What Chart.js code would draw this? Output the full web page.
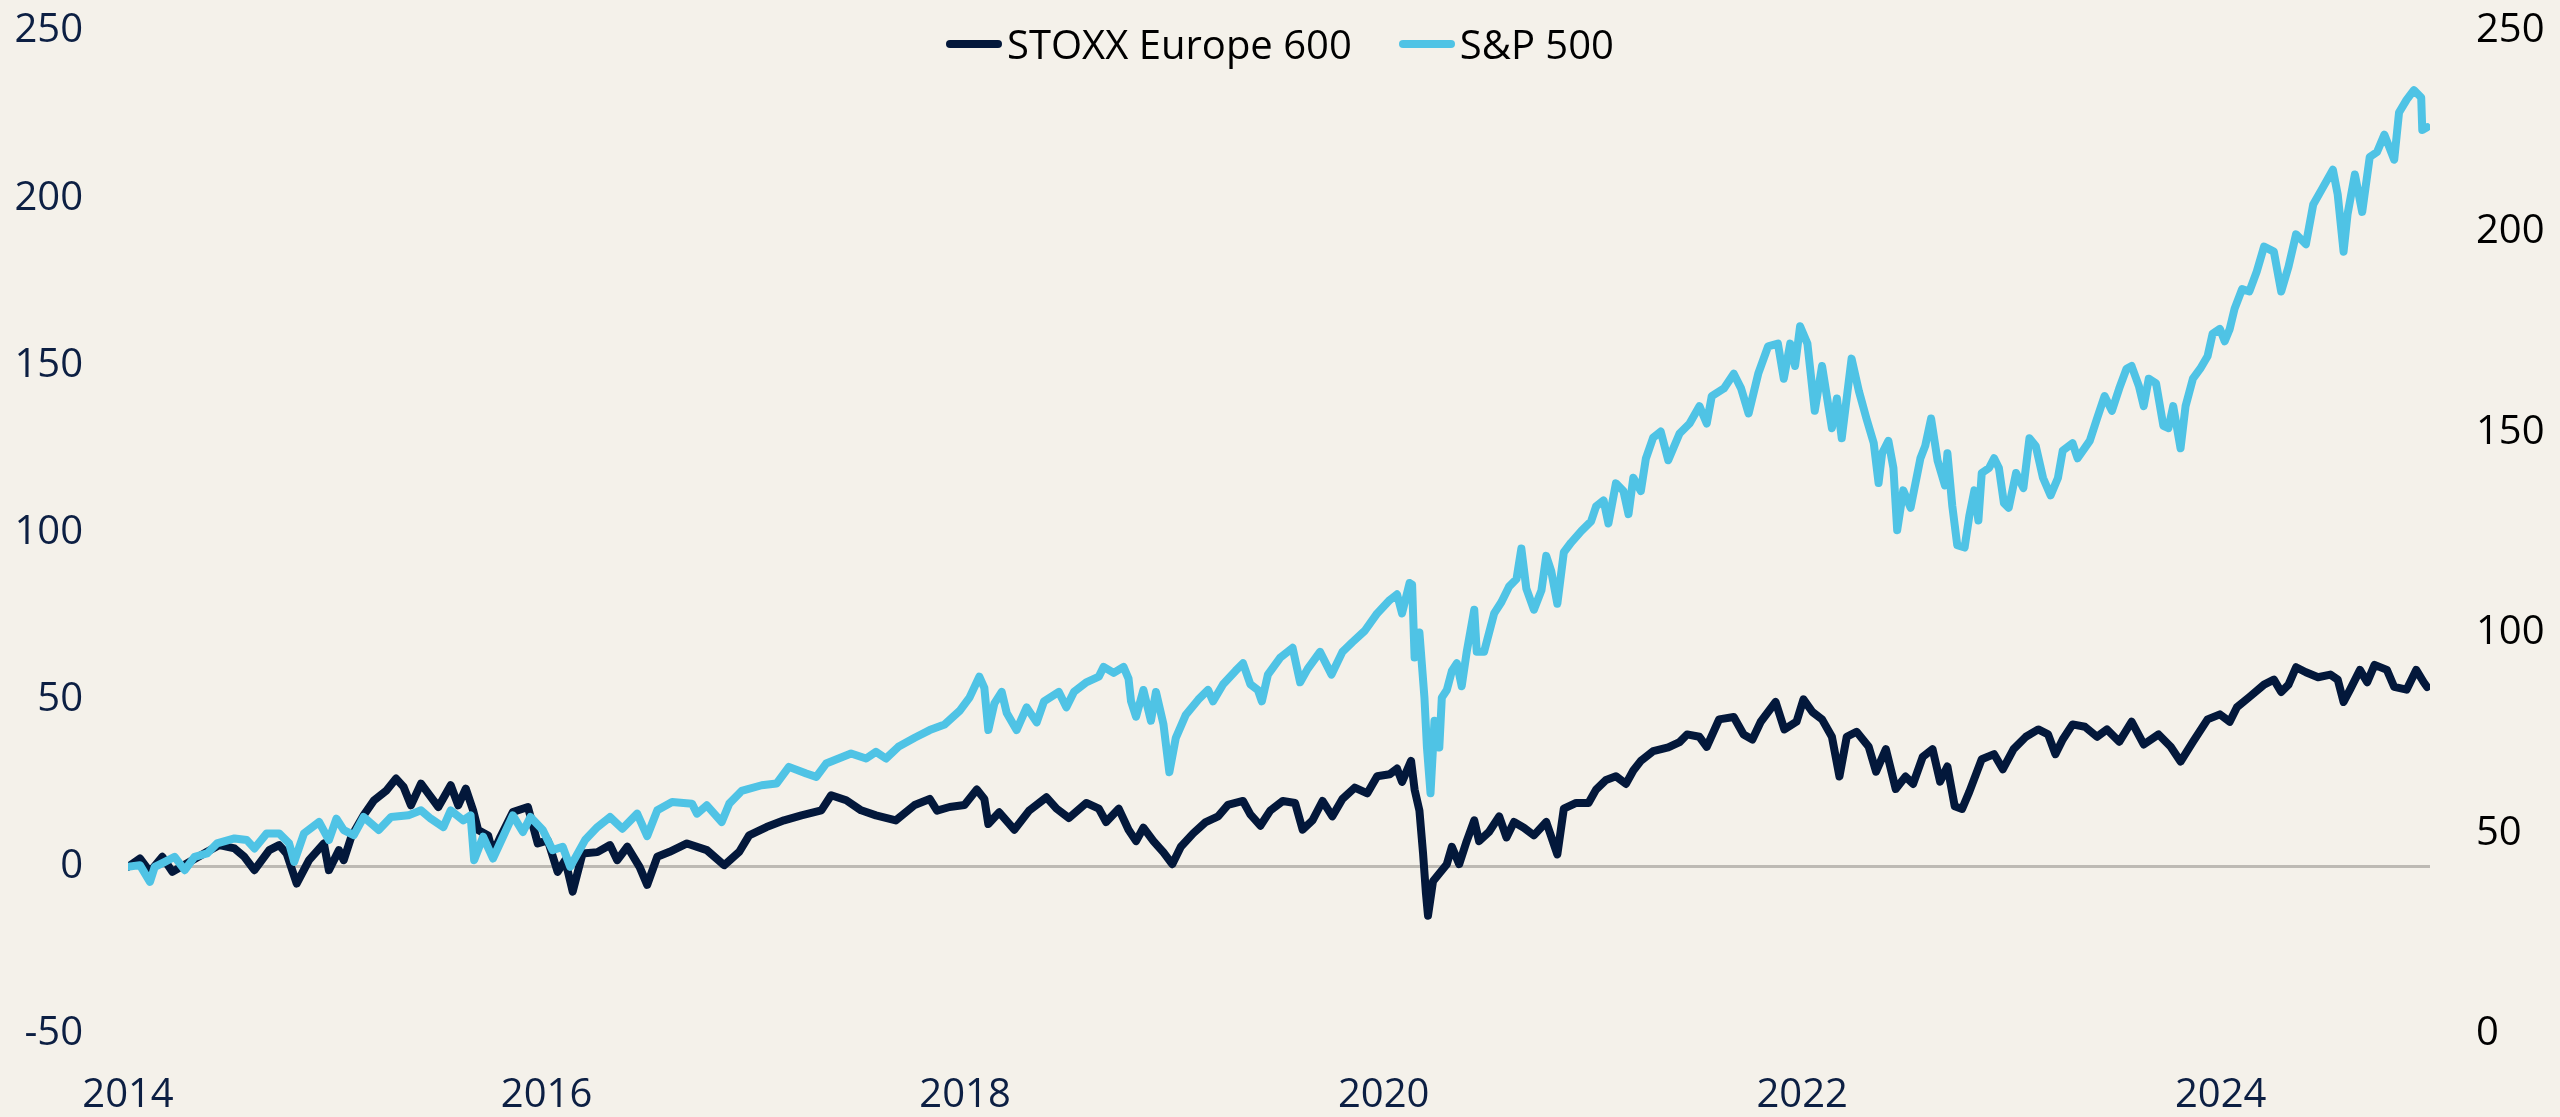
<!DOCTYPE html>
<html>
<head>
<meta charset="utf-8">
<title>STOXX Europe 600 vs S&amp;P 500</title>
<script src="https://cdn.jsdelivr.net/npm/chart.js@4.4.1/dist/chart.umd.min.js"></script>
<style>
  html, body { margin: 0; padding: 0; background: #f4f1ea; }
  #wrap { position: relative; width: 2560px; height: 1117px; }
  #legend {
    position: absolute; top: 16px; left: 0; width: 2560px;
    display: flex; justify-content: center; gap: 47px;
    font-family: 'Open Sans', sans-serif; font-size: 40px; line-height: 56px; color: #000;
  }
  .item { display: flex; align-items: center; }
  .swatch { width: 56px; height: 8px; border-radius: 4px; margin-right: 5px; }
</style>
</head>
<body>
<div id="wrap">
  <canvas id="chart" width="2560" height="1117"></canvas>
  <div id="legend"></div>
</div>
<script>
'use strict';

// Tick labels
const xTicks = [2014, 2016, 2018, 2020, 2022, 2024];
const leftTicks = [-50, 0, 50, 100, 150, 200, 250];
const rightTicks = [0, 50, 100, 150, 200, 250];

// STOXX Europe 600, % change since start (decimal years)
const stoxxYears = [
  2014.000, 2014.057, 2014.105, 2014.164, 2014.212, 2014.295, 2014.378, 2014.437, 2014.509, 2014.556,
  2014.604, 2014.675, 2014.722, 2014.758, 2014.806, 2014.865, 2014.936, 2014.960, 2015.008, 2015.031,
  2015.067, 2015.126, 2015.174, 2015.233, 2015.281, 2015.317, 2015.352, 2015.400, 2015.447, 2015.483,
  2015.542, 2015.578, 2015.614, 2015.649, 2015.673, 2015.721, 2015.744, 2015.780, 2015.839, 2015.911,
  2015.958, 2016.006, 2016.053, 2016.089, 2016.125, 2016.172, 2016.243, 2016.303, 2016.338, 2016.386,
  2016.445, 2016.481, 2016.529, 2016.588, 2016.671, 2016.766, 2016.849, 2016.921, 2016.968, 2017.051,
  2017.135, 2017.218, 2017.313, 2017.360, 2017.432, 2017.503, 2017.574, 2017.669,
  2017.759, 2017.831, 2017.866, 2017.926, 2017.997, 2018.056, 2018.092, 2018.111, 2018.163, 2018.235,
  2018.306, 2018.389, 2018.437, 2018.496, 2018.579, 2018.639, 2018.674, 2018.734, 2018.781, 2018.817,
  2018.852, 2018.900, 2018.948, 2018.990, 2019.031, 2019.090, 2019.150, 2019.209, 2019.256, 2019.328,
  2019.363, 2019.411, 2019.458, 2019.518, 2019.577, 2019.613, 2019.660, 2019.708, 2019.755, 2019.803,
  2019.862, 2019.922, 2019.969, 2020.029, 2020.064, 2020.088, 2020.131, 2020.148, 2020.171, 2020.188,
  2020.202, 2020.212, 2020.236, 2020.266, 2020.302, 2020.326, 2020.361, 2020.397, 2020.433, 2020.456,
  2020.504, 2020.552, 2020.587, 2020.623, 2020.670, 2020.718, 2020.777, 2020.830, 2020.861, 2020.920,
  2020.979, 2021.015, 2021.063, 2021.110, 2021.158, 2021.193, 2021.229, 2021.288, 2021.360, 2021.414,
  2021.450, 2021.509, 2021.544, 2021.603, 2021.673, 2021.720, 2021.762, 2021.802, 2021.873, 2021.915,
  2021.973, 2022.006, 2022.049, 2022.095, 2022.142, 2022.178, 2022.213, 2022.260, 2022.318, 2022.353,
  2022.400, 2022.447, 2022.494, 2022.530, 2022.576, 2022.623, 2022.659, 2022.694, 2022.729, 2022.764,
  2022.799, 2022.858, 2022.917, 2022.959, 2023.010, 2023.069, 2023.128, 2023.175, 2023.210, 2023.245,
  2023.292, 2023.351, 2023.409, 2023.456, 2023.515, 2023.574, 2023.632, 2023.703, 2023.761, 2023.808,
  2023.867, 2023.937, 2023.996, 2024.043, 2024.078, 2024.137, 2024.207, 2024.254, 2024.289, 2024.324,
  2024.360, 2024.407, 2024.465, 2024.524, 2024.559, 2024.587, 2024.618, 2024.665, 2024.700, 2024.735,
  2024.794, 2024.829, 2024.888, 2024.934, 2024.970, 2024.986
];
const stoxxValues = [
  0, 2.5, -1.5, 3, -1.5, 1.5, 4.5, 6.5, 5.5, 3,
  -1, 5, 6.5, 4, -5, 2, 7, -1, 5, 2,
  9, 15.4, 19.8, 22.7, 26.4, 23.9, 18.4, 24.9, 20.9, 17.9,
  24.4, 18.4, 23.4, 16.9, 11, 9.4, 4, 9, 16.4, 17.9,
  7, 7.9, -1.5, 2, -7.4, 4, 4.4, 6.5, 2, 6,
  -0.1, -5.4, 3, 4.5, 7, 5, 0.5, 4.5, 9.4, 11.9,
  13.9, 15.4, 16.9, 21.4, 19.9, 16.9, 15.4, 13.9,
  18.5, 20.3, 16.8, 17.9, 18.5, 23.1, 20.3, 12.8, 16.3, 11.1,
  16.8, 20.8, 17.4, 14.6, 19.1, 17.4, 13.4, 17.4, 11.1, 7.7,
  11.7, 7.7, 4.3, 0.8, 6.0, 10.0, 13.4, 15.1, 18.5, 19.7,
  15.7, 12.3, 16.8, 19.7, 19.1, 11.1, 13.9, 19.7, 15.1, 20.3,
  23.7, 22.0, 27.1, 27.7, 29.4, 25.4, 31.7, 23.1, 16.8, 4.3,
  -7.8, -14.6, -4.3, -2.0, 0.8, 6.0, 0.8, 7.7, 13.9, 7.7,
  10.5, 15.1, 8.8, 13.4, 11.7, 9.4, 13.4, 3.7, 17.4, 19.1,
  19.1, 23.1, 26.0, 27.1, 24.8, 28.8, 31.7, 34.6, 35.7, 37.3,
  39.6, 38.9, 35.9, 44.1, 44.8, 39.6, 38.1, 43.4, 49.3, 41.1,
  43.4, 50.1, 46.3, 44.1, 38.9, 27.0, 38.9, 40.4, 35.9, 28.5,
  35.2, 23.3, 27.0, 24.8, 32.9, 35.2, 25.5, 30.0, 18.1, 17.3,
  22.5, 32.2, 33.7, 29.2, 35.2, 38.9, 41.1, 39.6, 33.7, 38.1,
  42.6, 41.9, 38.9, 41.1, 37.4, 43.4, 36.6, 39.6, 35.9, 31.5,
  37.4, 44.1, 45.6, 43.4, 47.8, 50.8, 54.5, 56.0, 52.3, 54.5,
  59.7, 58.2, 56.7, 57.5, 56.0, 49.3, 53.0, 58.9, 55.2, 60.4,
  58.9, 53.8, 53.0, 58.9, 55.2, 53.8
];

// S&P 500, % change since start (decimal years)
const spxYears = [
  2014.000, 2014.057, 2014.105, 2014.128, 2014.176, 2014.223, 2014.271, 2014.318, 2014.378, 2014.425,
  2014.509, 2014.568, 2014.604, 2014.663, 2014.722, 2014.770, 2014.794, 2014.841, 2014.913, 2014.960,
  2014.996, 2015.031, 2015.079, 2015.126, 2015.198, 2015.257, 2015.340, 2015.400, 2015.447, 2015.507,
  2015.542, 2015.602, 2015.637, 2015.654, 2015.697, 2015.744, 2015.792, 2015.839, 2015.887, 2015.923,
  2015.982, 2016.029, 2016.077, 2016.113, 2016.184, 2016.243, 2016.303, 2016.362, 2016.433, 2016.481,
  2016.529, 2016.600, 2016.695, 2016.719, 2016.766, 2016.837, 2016.873, 2016.932, 2017.028, 2017.099,
  2017.158, 2017.241, 2017.289, 2017.336, 2017.455, 2017.527, 2017.574, 2017.622, 2017.681,
  2017.759, 2017.831, 2017.902, 2017.973, 2018.021, 2018.068, 2018.092, 2018.111, 2018.140, 2018.175,
  2018.199, 2018.246, 2018.294, 2018.342, 2018.377, 2018.448, 2018.484, 2018.520, 2018.579, 2018.639,
  2018.662, 2018.710, 2018.757, 2018.781, 2018.793, 2018.817, 2018.852, 2018.888, 2018.912, 2018.948,
  2018.976, 2019.007, 2019.055, 2019.114, 2019.161, 2019.185, 2019.233, 2019.292, 2019.328, 2019.363,
  2019.399, 2019.418, 2019.447, 2019.506, 2019.565, 2019.601, 2019.637, 2019.696, 2019.751, 2019.803,
  2019.851, 2019.910, 2019.969, 2020.029, 2020.064, 2020.088, 2020.124, 2020.136, 2020.148, 2020.171,
  2020.195, 2020.207, 2020.224, 2020.243, 2020.266, 2020.278, 2020.302, 2020.326, 2020.350, 2020.373,
  2020.397, 2020.433, 2020.445, 2020.480, 2020.528, 2020.563, 2020.599, 2020.635, 2020.658, 2020.682,
  2020.718, 2020.754, 2020.777, 2020.801, 2020.830, 2020.861, 2020.896, 2020.944, 2020.991, 2021.015,
  2021.051, 2021.074, 2021.110, 2021.146, 2021.170, 2021.193, 2021.229, 2021.253, 2021.288, 2021.324,
  2021.360, 2021.414,
  2021.462, 2021.509, 2021.544, 2021.568, 2021.626, 2021.673, 2021.708, 2021.744, 2021.790, 2021.837,
  2021.884, 2021.912, 2021.943, 2021.966, 2021.990, 2022.025, 2022.060, 2022.095, 2022.142, 2022.166,
  2022.189, 2022.236, 2022.271, 2022.307, 2022.342, 2022.365, 2022.382, 2022.412, 2022.436, 2022.454,
  2022.483, 2022.518, 2022.565, 2022.588, 2022.616, 2022.647, 2022.682, 2022.694, 2022.717, 2022.741,
  2022.776, 2022.799, 2022.823, 2022.842, 2022.858, 2022.893, 2022.917, 2022.940, 2022.964, 2022.987,
  2023.022, 2023.057, 2023.086, 2023.116, 2023.151, 2023.187, 2023.222, 2023.245, 2023.292, 2023.316,
  2023.374, 2023.409, 2023.445, 2023.480, 2023.515, 2023.550, 2023.574, 2023.609, 2023.632, 2023.656,
  2023.691, 2023.726, 2023.750, 2023.773, 2023.808, 2023.832, 2023.867, 2023.902, 2023.937, 2023.961,
  2023.996, 2024.019, 2024.043, 2024.066, 2024.102, 2024.137, 2024.172, 2024.207, 2024.254, 2024.289,
  2024.324, 2024.360, 2024.407, 2024.442, 2024.489, 2024.536, 2024.559, 2024.587, 2024.606, 2024.641,
  2024.676, 2024.712, 2024.747, 2024.782, 2024.829, 2024.852, 2024.888, 2024.923, 2024.958, 2024.963,
  2024.986
];
const spxValues = [
  0, 0.5, -4.5, 0, 1.5, 3, -1, 3, 4, 7,
  8.5, 8, 5.5, 10, 10, 7, 1.5, 10, 13.4, 8,
  14.4, 11, 9.5, 14.9, 11, 14.9, 15.4, 16.9, 14.4, 11.9,
  16.9, 13.9, 15.4, 2, 9, 2.5, 9, 15.4, 10.4, 14.9,
  11, 5, 6, 0, 8, 11.9, 14.9, 11.4, 15.9, 9.2,
  16.9, 19.4, 18.9, 15.9, 18.4, 13.4, 18.9, 22.7, 24.4, 24.9,
  29.9, 27.9, 26.9, 30.9, 33.9, 32.4, 34.4, 32.4, 35.9,
  38.6, 40.9, 42.6, 46.6, 50.6, 56.9, 53.5, 40.9, 48.9, 52.3,
  46.0, 40.9, 47.7, 43.2, 49.5, 52.3, 47.7, 52.3, 55.2, 56.9,
  59.8, 58.0, 59.8, 56.3, 49.5, 44.9, 52.9, 43.7, 52.3, 42.6,
  28.3, 38.6, 45.5, 50.0, 52.9, 49.5, 54.6, 58.6, 60.9, 54.6,
  52.9, 49.5, 57.5, 62.6, 65.5, 55.2, 59.2, 64.3, 57.5, 64.3,
  67.2, 70.6, 75.8, 79.8, 81.5, 75.8, 84.9, 84.4, 62.6, 70.1,
  50.6, 35.7, 22.0, 43.7, 35.7, 50.6, 52.9, 58.6, 60.9, 54.0,
  64.3, 76.9, 64.3, 64.3, 75.8, 79.2, 83.8, 86.1, 95.2, 83.2,
  76.9, 82.7, 93.0, 88.4, 78.7, 94.1, 97.0, 100.4, 103.3, 107.8,
  109.6, 102.7, 114.7, 112.4, 105.5, 116.4, 112.4, 122.1, 128.4, 130.2,
  121.6, 129.6,
  132.6, 137.8, 132.6, 140.8, 143.1, 147.5, 143.1, 135.6, 147.5, 155.7,
  156.5, 146.0, 156.5, 149.8, 161.7, 156.5, 136.4, 149.8, 131.2, 140.1,
  128.2, 152.0, 142.3, 134.1, 126.7, 114.8, 123.7, 127.4, 119.3, 100.7,
  112.6, 107.4, 122.2, 125.9, 134.1, 121.5, 114.1, 123.7, 108.1, 96.2,
  95.5, 105.1, 112.6, 103.6, 117.8, 119.3, 122.2, 119.3, 108.8, 107.4,
  117.8, 113.3, 128.2, 125.9, 116.3, 111.1, 116.3, 124.5, 126.7, 122.2,
  127.4, 134.1, 140.8, 136.4, 143.1, 149.0, 149.8, 143.8, 137.8, 146.0,
  144.6, 131.9, 131.2, 137.8, 125.2, 137.8, 146.0, 149.0, 152.7, 159.4,
  160.9, 157.2, 160.9, 166.9, 172.8, 172.1, 178.0, 185.5, 184.0, 172.1,
  179.5, 189.2, 186.2, 198.1, 203.3, 208.5, 201.1, 184.0, 195.2, 207.1,
  195.9, 212.3, 213.8, 219.0, 211.5, 225.6, 229.4, 232.3, 230.1, 220.4,
  221.2
];

const NAVY = '#03183b';
const SKY = '#4fc3e5';
const LABEL_NAVY = '#0c1f43';

Chart.defaults.font.family = "'Open Sans', sans-serif";
Chart.defaults.font.size = 40;

function toPoints(xs, ys) {
    return xs.map((x, i) => ({ x: x, y: ys[i] }));
}

function setTicks(values) {
    return scale => { scale.ticks = values.map(v => ({ value: v })); };
}

// fixed axis size, and no extra room reserved for label overhang
function fixSize(prop, size) {
    return scale => {
        scale[prop] = size;
        scale.paddingTop = 0;
        scale.paddingBottom = 0;
        scale.paddingLeft = 0;
        scale.paddingRight = 0;
    };
}

const ctx = document.getElementById('chart').getContext('2d');
const chart = new Chart(ctx, {
    type: 'line',
    data: {
        datasets: [
            {
                label: 'STOXX Europe 600',
                data: toPoints(stoxxYears, stoxxValues),
                borderColor: NAVY,
                backgroundColor: NAVY,
                order: 1
            },
            {
                label: 'S&P 500',
                data: toPoints(spxYears, spxValues),
                borderColor: SKY,
                backgroundColor: SKY,
                order: 0 // drawn on top, like the original
            }
        ]
    },
    options: {
        responsive: false,
        animation: false,
        devicePixelRatio: 1,
        layout: { padding: { top: 31, left: 0, right: 0, bottom: 0 } },
        elements: {
            point: { radius: 0 },
            line: { borderWidth: 8, tension: 0, borderJoinStyle: 'round', borderCapStyle: 'round' }
        },
        plugins: {
            legend: { display: false },
            tooltip: { enabled: false }
        },
        scales: {
            x: {
                type: 'linear',
                min: 2014,
                max: 2025,
                afterBuildTicks: setTicks(xTicks),
                afterFit: fixSize('height', 83),
                grid: { display: false, drawTicks: false },
                border: { display: false },
                ticks: { padding: 38, color: LABEL_NAVY, maxRotation: 0, callback: v => String(v) }
            },
            y: {
                position: 'left',
                min: -50,
                max: 250,
                afterBuildTicks: setTicks(leftTicks),
                afterFit: fixSize('width', 128),
                grid: {
                    drawTicks: false,
                    lineWidth: 3,
                    color: c => (c.tick && c.tick.value === 0 ? '#bdbab4' : 'rgba(0,0,0,0)')
                },
                border: { display: false },
                ticks: { padding: 45, color: LABEL_NAVY, callback: v => String(v) }
            },
            y2: {
                position: 'right',
                display: true,
                min: 0,
                max: 250,
                afterBuildTicks: setTicks(rightTicks),
                afterFit: fixSize('width', 130),
                grid: { display: false, drawTicks: false },
                border: { display: false },
                ticks: { padding: 46, color: '#000', callback: v => String(v) }
            }
        }
    }
});

// HTML legend, in dataset order
const legendBox = document.getElementById('legend');
chart.data.datasets.forEach(ds => {
    const item = document.createElement('div');
    item.className = 'item';
    const swatch = document.createElement('span');
    swatch.className = 'swatch';
    swatch.style.background = ds.borderColor;
    const text = document.createElement('span');
    text.textContent = ds.label;
    item.appendChild(swatch);
    item.appendChild(text);
    legendBox.appendChild(item);
});
</script>
</body>
</html>
